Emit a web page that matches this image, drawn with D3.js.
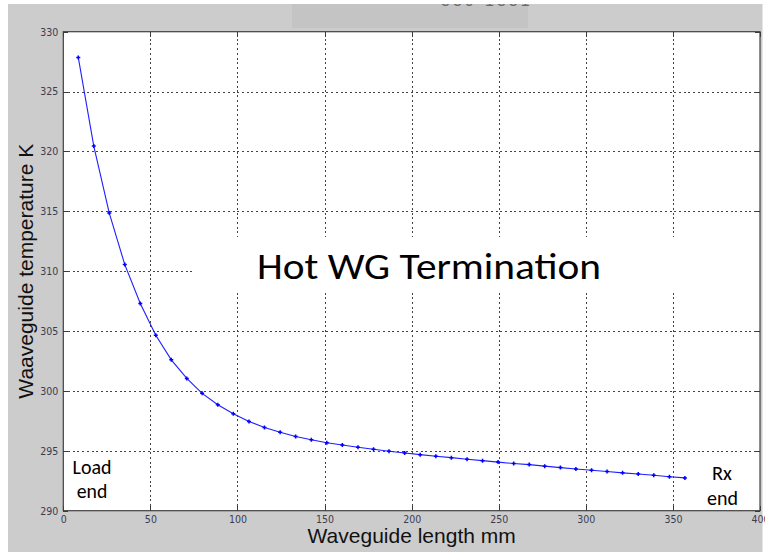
<!DOCTYPE html>
<html>
<head>
<meta charset="utf-8">
<script src="https://cdn.jsdelivr.net/npm/d3@7"></script>
<style>
  html, body { margin: 0; padding: 0; background: #ffffff; }
  svg { display: block; }
</style>
</head>
<body>
<svg id="chart" width="765" height="553"></svg>
<script>
// Waveguide position along the guide (mm)
const lengthMm = [8.6, 17.5, 26.4, 35.3, 44.2, 53.1, 62.0, 70.9, 79.7, 88.7,
                  97.6, 106.6, 115.5, 124.5, 133.4, 142.4, 151.3, 160.2, 169.2, 178.1,
                  187.0, 196.0, 204.9, 213.9, 222.8, 231.8, 240.7, 249.6, 258.6, 267.5,
                  276.4, 285.4, 294.3, 303.3, 312.2, 321.1, 330.1, 339.0, 348.0, 356.9];
// Waveguide temperature at each position (K)
const temperatureK = [327.85, 320.45, 314.85, 310.55, 307.30, 304.65, 302.60, 301.05, 299.80, 298.85,
                      298.10, 297.45, 296.95, 296.55, 296.20, 295.92, 295.68, 295.48, 295.30, 295.13,
                      294.97, 294.82, 294.68, 294.55, 294.43, 294.30, 294.18, 294.06, 293.94, 293.85,
                      293.72, 293.60, 293.48, 293.38, 293.27, 293.16, 293.07, 292.96, 292.84, 292.74];
const xTicks = [0, 50, 100, 150, 200, 250, 300, 350, 400];
const yTicks = [290, 295, 300, 305, 310, 315, 320, 325, 330];

(function () {
const svg = d3.select("#chart");
const pLeft = 63.3, pRight = 760, pTop = 31.7, pBottom = 510.7;

// figure background
svg.append("rect").attr("x", 8).attr("y", 4).attr("width", 754.5).attr("height", 548)
  .attr("fill", "#cccccc");
svg.append("rect").attr("x", 292).attr("y", 4).attr("width", 236).attr("height", 24)
  .attr("fill", "#c4c4c4");
svg.append("text").attr("x", 441).attr("y", 5.6)
  .attr("font-family", "Liberation Sans, Arial, sans-serif").attr("font-size", 16)
  .attr("fill", "#6a6a6a").attr("letter-spacing", 3).text("330-1331");
svg.append("rect").attr("x", 0).attr("y", 0).attr("width", 765).attr("height", 4)
  .attr("fill", "#ffffff");

const x = d3.scaleLinear().domain([0, 400]).range([pLeft, pRight]);
const y = d3.scaleLinear().domain([290, 330]).range([pBottom, pTop]);

// plot area
svg.append("rect").attr("x", pLeft).attr("y", pTop)
  .attr("width", pRight - pLeft).attr("height", pBottom - pTop).attr("fill", "#ffffff");

// dotted grid
const gridColor = "#444444";
const gx = svg.append("g").attr("transform", `translate(0,${pBottom})`)
  .call(d3.axisBottom(x).tickValues(xTicks.slice(1, -1)).tickSize(-(pBottom - pTop)).tickFormat(""));
const gy = svg.append("g").attr("transform", `translate(${pLeft},0)`)
  .call(d3.axisLeft(y).tickValues(yTicks.slice(1, -1)).tickSize(-(pRight - pLeft)).tickFormat(""));
[gx, gy].forEach(g => {
  g.select(".domain").remove();
  g.selectAll("line").attr("stroke", gridColor).attr("stroke-width", 1)
    .attr("stroke-dasharray", "2,2.7").attr("shape-rendering", "crispEdges");
});

// inward tick marks on all four sides
const tickLen = 5;
const tickStyle = g => {
  g.select(".domain").remove();
  g.selectAll("line").attr("stroke", "#3a3a3a").attr("shape-rendering", "crispEdges");
};
svg.append("g").attr("transform", `translate(0,${pBottom})`)
  .call(d3.axisBottom(x).tickValues(xTicks).tickSize(-tickLen).tickFormat("")).call(tickStyle);
svg.append("g").attr("transform", `translate(0,${pTop})`)
  .call(d3.axisTop(x).tickValues(xTicks).tickSize(-tickLen).tickFormat("")).call(tickStyle);
svg.append("g").attr("transform", `translate(${pLeft},0)`)
  .call(d3.axisLeft(y).tickValues(yTicks).tickSize(-tickLen).tickFormat("")).call(tickStyle);
svg.append("g").attr("transform", `translate(${pRight},0)`)
  .call(d3.axisRight(y).tickValues(yTicks).tickSize(-tickLen).tickFormat("")).call(tickStyle);

// label box that hides the grid behind the title
svg.append("rect").attr("x", 193).attr("y", 237).attr("width", pRight - 193).attr("height", 54)
  .attr("fill", "#ffffff");

// frame
svg.append("rect").attr("x", pLeft).attr("y", pTop)
  .attr("width", pRight - pLeft).attr("height", pBottom - pTop)
  .attr("fill", "none").attr("stroke", "#404040").attr("stroke-width", 1.2);

// tick labels
const tickFont = "'Liberation Sans Narrow', 'DejaVu Sans Condensed', Arial, sans-serif";
const xl = svg.append("g").attr("transform", `translate(0,${pBottom})`)
  .call(d3.axisBottom(x).tickValues(xTicks).tickSize(0).tickPadding(3).tickFormat(d3.format("d")));
const yl = svg.append("g").attr("transform", `translate(${pLeft},0)`)
  .call(d3.axisLeft(y).tickValues(yTicks).tickSize(0).tickPadding(5).tickFormat(d3.format("d")));
[xl, yl].forEach(g => {
  g.select(".domain").remove();
  g.selectAll("text").attr("font-family", tickFont).attr("font-size", 10.5).attr("fill", "#3c3c50");
});
xl.selectAll("text").attr("dy", null).attr("y", 12);

// series
const pts = lengthMm.map((d, i) => [d, temperatureK[i]]);
svg.append("path").datum(pts)
  .attr("fill", "none").attr("stroke", "#1f1fff").attr("stroke-width", 1.1)
  .attr("d", d3.line().x(d => x(d[0])).y(d => y(d[1])));
svg.append("g").selectAll("path").data(pts).join("path")
  .attr("d", d => {
    const cx = x(d[0]), cy = y(d[1]);
    return `M${cx - 2},${cy}H${cx + 2}M${cx},${cy - 2}V${cy + 2}`;
  })
  .attr("stroke", "#0000ff").attr("stroke-width", 1.5).attr("fill", "none");

// axis titles
svg.append("text").attr("x", (pLeft + pRight) / 2).attr("y", 543)
  .attr("text-anchor", "middle")
  .attr("font-family", "'Liberation Sans', Arial, sans-serif").attr("font-size", 21)
  .attr("fill", "#111").text("Waveguide length mm");
svg.append("text").attr("transform", `translate(33,${(pTop + pBottom) / 2}) rotate(-90)`)
  .attr("text-anchor", "middle")
  .attr("font-family", "'Liberation Sans', Arial, sans-serif").attr("font-size", 21)
  .attr("fill", "#111").text("Waaveguide temperature K");

// annotations
const noteFont = "Carlito, Calibri, Lato, sans-serif";
svg.append("text").attr("x", 257).attr("y", 279.3)
  .attr("font-family", noteFont).attr("font-size", 37)
  .attr("textLength", 344).attr("lengthAdjust", "spacingAndGlyphs")
  .attr("fill", "#000").text("Hot WG Termination");
const note = (cx, by, s, w) => svg.append("text").attr("x", cx - w / 2).attr("y", by)
  .attr("font-family", noteFont).attr("font-size", 19.5)
  .attr("textLength", w).attr("lengthAdjust", "spacingAndGlyphs")
  .attr("fill", "#000").text(s);
note(92, 474, "Load", 39);
note(92, 498, "end", 30.6);
note(722, 480, "Rx", 20);
note(722.5, 504.5, "end", 31);
})();
</script>
</body>
</html>
